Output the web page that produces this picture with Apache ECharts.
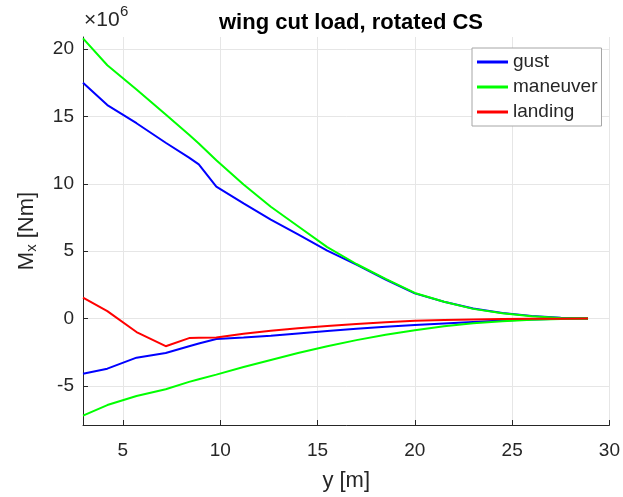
<!DOCTYPE html>
<html>
<head>
<meta charset="utf-8">
<script src="https://cdn.jsdelivr.net/npm/echarts@6/dist/echarts.min.js"></script>
<style>
  html, body { margin: 0; padding: 0; background: #fff; }
  #chart { width: 623px; height: 497px; }
</style>
</head>
<body>
<div id="chart"></div>
<script>
// Spanwise stations along the wing [m]
const span = [2.95, 4.2, 5.7, 7.2, 8.4, 8.9, 9.8, 11.2, 12.6, 14, 15.5, 17, 18.5, 20, 21.5, 23, 24.5, 26, 27.5, 28.9];

// Cut bending moment Mx, in units of 1e6 Nm
const gustMax = [17.5, 15.85, 14.5, 13.05, 11.95, 11.45, 9.8, 8.55, 7.35, 6.25, 5.05, 4.0, 2.9, 1.87, 1.25, 0.75, 0.42, 0.2, 0.06, 0];
const gustMin = [-4.1, -3.72, -2.9, -2.55, -2.05, -1.85, -1.52, -1.4, -1.27, -1.1, -0.92, -0.75, -0.6, -0.48, -0.36, -0.25, -0.15, -0.07, -0.02, 0];
const maneuverMax = [20.8, 18.8, 17.0, 15.14, 13.65, 13.0, 11.75, 9.95, 8.3, 6.85, 5.3, 4.05, 2.95, 1.9, 1.25, 0.72, 0.4, 0.18, 0.05, 0];
const maneuverMin = [-7.2, -6.42, -5.75, -5.25, -4.7, -4.5, -4.16, -3.6, -3.07, -2.55, -2.05, -1.6, -1.2, -0.86, -0.57, -0.35, -0.2, -0.09, -0.03, 0];
const landing = [1.55, 0.55, -1.0, -2.05, -1.45, -1.43, -1.4, -1.12, -0.9, -0.72, -0.55, -0.4, -0.27, -0.17, -0.11, -0.07, -0.04, -0.02, -0.01, 0];

// Tick labels
const xTicks = [5, 10, 15, 20, 25, 30];
const yTicks = [-5, 0, 5, 10, 15, 20];

const FONT = '"Liberation Sans", Arial, Helvetica, sans-serif';
const TXT = '#262626';

const pairs = ys => span.map((x, i) => [x, ys[i]]);

const lineSeries = (name, color, ys) => ({
  name: name,
  type: 'line',
  data: pairs(ys),
  showSymbol: false,
  symbol: 'none',
  smooth: false,
  lineStyle: { color: color, width: 2 },
  itemStyle: { color: color },
  animation: false
});

const chart = echarts.init(document.getElementById('chart'), null, { renderer: 'canvas' });

chart.setOption({
  backgroundColor: '#ffffff',
  animation: false,
  textStyle: { fontFamily: FONT },
  title: {
    text: 'wing cut load, rotated CS',
    left: 346,
    textAlign: 'center',
    top: 7,
    textStyle: { fontFamily: FONT, fontSize: 22, fontWeight: 'bold', color: '#000' }
  },
  grid: { left: 83, right: 13, top: 37, bottom: 69, containLabel: false },
  legend: {
    data: ['gust', 'maneuver', 'landing'],
    orient: 'vertical',
    left: 472,
    top: 48,
    padding: [4, 4, 4, 5],
    itemGap: 5,
    itemWidth: 31,
    itemHeight: 3,
    icon: 'rect',
    backgroundColor: '#ffffff',
    borderColor: '#a6a6a6',
    borderWidth: 1,
    borderRadius: 0,
    textStyle: { fontFamily: FONT, fontSize: 19, color: TXT, lineHeight: 20 }
  },
  xAxis: {
    type: 'value',
    min: 2.95,
    max: 30,
    name: 'y [m]',
    nameLocation: 'middle',
    nameGap: 45,
    nameTextStyle: { fontFamily: FONT, fontSize: 22, color: TXT },
    axisLine: { show: true, onZero: false, lineStyle: { color: '#262626', width: 1 } },
    axisTick: { show: true, inside: true, length: 5, customValues: xTicks, lineStyle: { color: '#262626' } },
    axisLabel: { customValues: xTicks, fontFamily: FONT, fontSize: 19, color: TXT, margin: 16 },
    splitLine: { show: true, lineStyle: { color: '#e6e6e6', width: 1 } }
  },
  yAxis: {
    type: 'value',
    min: -7.9,
    max: 20.9,
    name: 'M{sub|x} [Nm]',
    nameLocation: 'middle',
    nameRotate: 90,
    nameGap: 44,
    nameTextStyle: {
      fontFamily: FONT, fontSize: 22, color: TXT,
      rich: { sub: { fontFamily: FONT, fontSize: 15, color: TXT, verticalAlign: 'bottom', padding: [9, 0, 0, 0] } }
    },
    axisLine: { show: true, onZero: false, lineStyle: { color: '#262626', width: 1 } },
    axisTick: { show: true, inside: true, length: 5, customValues: yTicks, lineStyle: { color: '#262626' } },
    axisLabel: { customValues: yTicks, fontFamily: FONT, fontSize: 19, color: TXT, margin: 9 },
    splitLine: { show: true, lineStyle: { color: '#e6e6e6', width: 1 } }
  },
  // Exponent marker for the y axis: "×10" with a raised "6"
  graphic: [
    {
      type: 'text',
      left: 84,
      top: 10,
      style: { text: '×10', fontFamily: FONT, fontSize: 21, fill: TXT }
    },
    {
      type: 'text',
      left: 120,
      top: 4,
      style: { text: '6', fontFamily: FONT, fontSize: 15, fill: TXT }
    }
  ],
  series: [
    lineSeries('gust', '#0000ff', gustMax),
    lineSeries('gust', '#0000ff', gustMin),
    lineSeries('maneuver', '#00ff00', maneuverMax),
    lineSeries('maneuver', '#00ff00', maneuverMin),
    lineSeries('landing', '#ff0000', landing)
  ]
});
</script>
</body>
</html>
